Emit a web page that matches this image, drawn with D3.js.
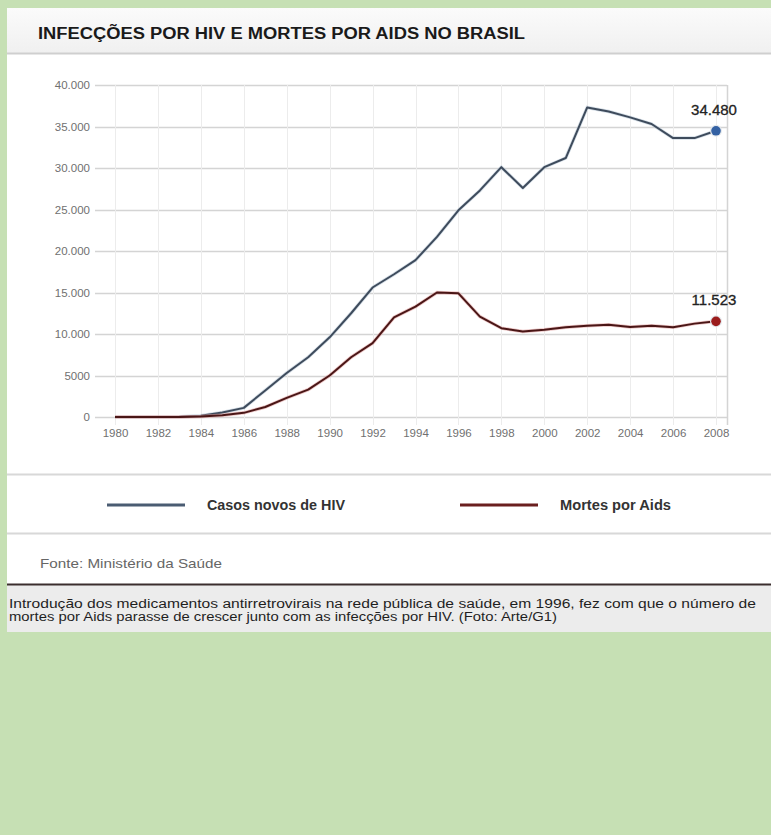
<!DOCTYPE html>
<html><head><meta charset="utf-8">
<script src="https://cdn.jsdelivr.net/npm/d3@7"></script>
<style>
html,body{margin:0;padding:0;background:#c6e0b4;}
svg{display:block;}
</style></head>
<body>
<svg id="chart" width="771" height="835"></svg>
<script>
const years = [1980,1981,1982,1983,1984,1985,1986,1987,1988,1989,1990,1991,1992,1993,1994,1995,1996,1997,1998,1999,2000,2001,2002,2003,2004,2005,2006,2007,2008];
const hivCases = [0,0,0,40,150,550,1100,3200,5300,7200,9600,12500,15600,17200,18900,21700,24900,27300,30100,27600,30100,31200,37300,36800,36100,35300,33600,33600,34480];
const aidsDeaths = [0,0,0,0,50,200,500,1200,2300,3300,5000,7200,8900,12000,13300,15000,14900,12100,10700,10300,10500,10800,11000,11100,10850,11000,10800,11250,11523];
const yTicks = [0,5000,10000,15000,20000,25000,30000,35000,40000];
const yTickLabels = ["0","5000","10.000","15.000","20.000","25.000","30.000","35.000","40.000"];
const xTicks = [1980,1982,1984,1986,1988,1990,1992,1994,1996,1998,2000,2002,2004,2006,2008];
const seriesNames = ["Casos novos de HIV","Mortes por Aids"];
const endLabels = ["34.480","11.523"];
const titleText = "INFECÇÕES POR HIV E MORTES POR AIDS NO BRASIL";
const sourceText = "Fonte: Ministério da Saúde";
const captionLines = ["Introdução dos medicamentos antirretrovirais na rede pública de saúde, em 1996, fez com que o número de",
  "mortes por Aids parasse de crescer junto com as infecções por HIV. (Foto: Arte/G1)"];

const svg = d3.select("#chart");
const sans = "'Liberation Sans',Arial,sans-serif";

// panel
svg.append("rect").attr("x",7).attr("y",8).attr("width",764).attr("height",624).attr("fill","#fff");
const grad = svg.append("defs").append("linearGradient").attr("id","tg").attr("x1",0).attr("y1",0).attr("x2",0).attr("y2",1);
grad.append("stop").attr("offset","0%").attr("stop-color","#fbfbfb");
grad.append("stop").attr("offset","100%").attr("stop-color","#f0f0f0");
svg.append("rect").attr("x",7).attr("y",8).attr("width",764).attr("height",45).attr("fill","url(#tg)");
svg.append("line").attr("x1",7).attr("x2",771).attr("y1",53.5).attr("y2",53.5).attr("stroke","#cfcfcf").attr("stroke-width",2);
svg.append("text").attr("x",38).attr("y",39).text(titleText)
  .attr("font-family",sans).attr("font-weight","bold").attr("font-size",16).attr("fill","#1a1a1a")
  .attr("textLength",487).attr("lengthAdjust","spacingAndGlyphs");

// scales
const x = d3.scaleLinear().domain([1980,2008]).range([115,716]);
const y = d3.scaleLinear().domain([0,40000]).range([417,85]);

const g = svg.append("g");
g.selectAll(".hg").data(yTicks).join("line")
  .attr("x1",95).attr("x2",727).attr("y1",d=>Math.round(y(d))+0.5).attr("y2",d=>Math.round(y(d))+0.5)
  .attr("stroke","#d4d4d4").attr("stroke-width",1.5);
g.selectAll(".vg").data(xTicks).join("line")
  .attr("x1",d=>Math.round(x(d))+0.5).attr("x2",d=>Math.round(x(d))+0.5).attr("y1",85).attr("y2",425)
  .attr("stroke","#ececec").attr("stroke-width",1);
g.append("line").attr("x1",727.5).attr("x2",727.5).attr("y1",85).attr("y2",425).attr("stroke","#d4d4d4").attr("stroke-width",1.5);

const yAxis = d3.axisLeft(y).tickValues(yTicks).tickFormat((d,i)=>yTickLabels[i]).tickSize(0).tickPadding(0);
const ya = svg.append("g").attr("transform","translate(90,0)").call(yAxis);
ya.select(".domain").remove();
ya.selectAll("text").attr("font-family",sans).attr("font-size",11.5).attr("fill","#707070");

const xAxis = d3.axisBottom(x).tickValues(xTicks).tickFormat(d3.format("d")).tickSize(0).tickPadding(0);
const xa = svg.append("g").attr("transform","translate(0,429)").call(xAxis);
xa.select(".domain").remove();
xa.selectAll("text").attr("font-family",sans).attr("font-size",11.5).attr("fill","#707070");

const line = d3.line().x((d,i)=>x(years[i])).y(d=>y(d));
const series = [{vals:hivCases,color:"#3e4b5c",glow:"#b9c8d6",dot:"#3461a3"},{vals:aidsDeaths,color:"#4a1616",glow:"#e0a0a0",dot:"#9b1c1c"}];
series.forEach(s=>{
  svg.append("path").datum(s.vals).attr("d",line).attr("fill","none").attr("stroke",s.glow).attr("stroke-width",3.5).attr("opacity",0.6);
  svg.append("path").datum(s.vals).attr("d",line).attr("fill","none").attr("stroke",s.color).attr("stroke-width",2).attr("stroke-linejoin","round");
});
series.forEach((s,i)=>{
  const v = s.vals[s.vals.length-1];
  svg.append("circle").attr("cx",x(2008)).attr("cy",y(v)).attr("r",6).attr("fill","#e4e8ec");
  svg.append("circle").attr("cx",x(2008)).attr("cy",y(v)).attr("r",4.8).attr("fill",s.dot);
  svg.append("text").attr("x",x(2008)-2).attr("y",y(v)-16).attr("text-anchor","middle")
    .attr("font-family",sans).attr("font-size",15).attr("fill","#222").attr("stroke","#222").attr("stroke-width",0.3).text(endLabels[i]);
});

svg.append("line").attr("x1",7).attr("x2",771).attr("y1",474.5).attr("y2",474.5).attr("stroke","#d8d8d8").attr("stroke-width",2);
svg.append("line").attr("x1",7).attr("x2",771).attr("y1",533.5).attr("y2",533.5).attr("stroke","#d8d8d8").attr("stroke-width",2);

const legX = [107,460];
const legColors = ["#4a5c72","#6a1f1f"];
const legTextLen = [138,111];
seriesNames.forEach((n,i)=>{
  svg.append("line").attr("x1",legX[i]).attr("x2",legX[i]+78).attr("y1",505).attr("y2",505).attr("stroke",legColors[i]).attr("stroke-width",3);
  svg.append("text").attr("x",legX[i]+100).attr("y",510).text(n)
    .attr("font-family",sans).attr("font-weight","bold").attr("font-size",14).attr("fill","#333")
    .attr("textLength",legTextLen[i]).attr("lengthAdjust","spacingAndGlyphs");
});

svg.append("text").attr("x",40).attr("y",568).text(sourceText)
  .attr("font-family",sans).attr("font-size",13).attr("fill","#666")
  .attr("textLength",182).attr("lengthAdjust","spacingAndGlyphs");

svg.append("rect").attr("x",7).attr("y",585).attr("width",764).attr("height",47).attr("fill","#ececec");
svg.append("line").attr("x1",7).attr("x2",771).attr("y1",584.5).attr("y2",584.5).attr("stroke","#3b2e2e").attr("stroke-width",2);
const capLens = [747,548];
captionLines.forEach((t,i)=>{
  svg.append("text").attr("x",9).attr("y",608+i*13).text(t)
    .attr("font-family",sans).attr("font-size",12).attr("fill","#1f1f1f")
    .attr("textLength",capLens[i]).attr("lengthAdjust","spacingAndGlyphs");
});
</script>
</body></html>
